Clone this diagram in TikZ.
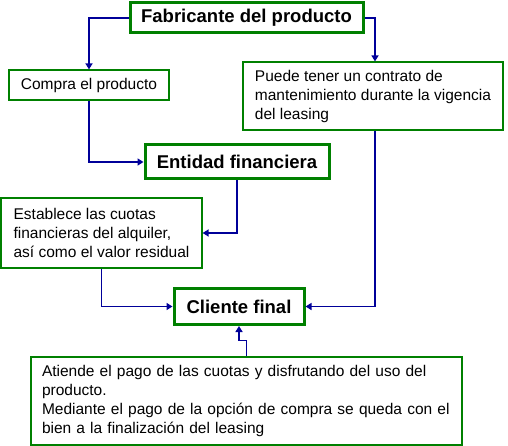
\documentclass[tikz,border=0pt]{standalone}
\usepackage{fontspec}
\setmainfont{Liberation Sans}
\usetikzlibrary{arrows.meta}
\definecolor{boxgreen}{RGB}{0,128,0}
\definecolor{linkblue}{RGB}{0,0,153}

\begin{document}
\begin{tikzpicture}[x=1pt,y=-1pt,
    mainbox/.style={draw=boxgreen, line width=3pt, inner sep=0pt,
      font=\bfseries\fontsize{18.5}{22}\selectfont},
    notebox/.style={draw=boxgreen, line width=1.2pt, inner sep=0pt, align=left,
      font=\fontsize{15.5}{19}\selectfont},
    link/.style={draw=linkblue, line width=1.6pt,
      -{Triangle[length=6pt,width=7pt]}}]
    \useasboundingbox (0,0) rectangle (508,446);
    \node[mainbox, minimum width=233, minimum height=30] (fab) at (246.5,18) {Fabricante del producto};
    \node[notebox, minimum width=160, minimum height=30] (comp) at (89,85) {Compra el producto};
    \node[notebox, minimum width=260, minimum height=68] (puede) at (373,96)
      {Puede tener un contrato de\\mantenimiento durante la vigencia\\del leasing};
    \node[mainbox, minimum width=184, minimum height=34] (ent) at (237,162) {Entidad financiera};
    \node[notebox, minimum width=201, minimum height=70] (est) at (101.5,233)
      {Establece las cuotas\\financieras del alquiler,\\así como el valor residual};
    \node[mainbox, minimum width=130, minimum height=36] (cli) at (239,306.5) {Cliente final};
    \node[notebox, minimum width=431, minimum height=88, text width=409] (ati) at (246.5,401)
      {Atiende el pago de las cuotas y disfrutando del uso del\\producto.\\Mediante el pago de la opción de compra se queda con el\\bien a la finalización del leasing};
    % from the manufacturer
    \draw[link] (fab.west) -| (comp.north);
    \draw[link] (fab.east) -| ([xshift=2]puede.north);
    % to the bank
    \draw[link] (comp.south) |- (ent.west);
    \draw[link] (ent.south) |- (est.east);
    % to the client
    \draw[link] (est.south) |- (cli.west);
    \draw[link] ([xshift=2]puede.south) |- (cli.east);
    \draw[link] (ati.north) -- ++(0,-16) -| (cli.south);
\end{tikzpicture}
\end{document}
